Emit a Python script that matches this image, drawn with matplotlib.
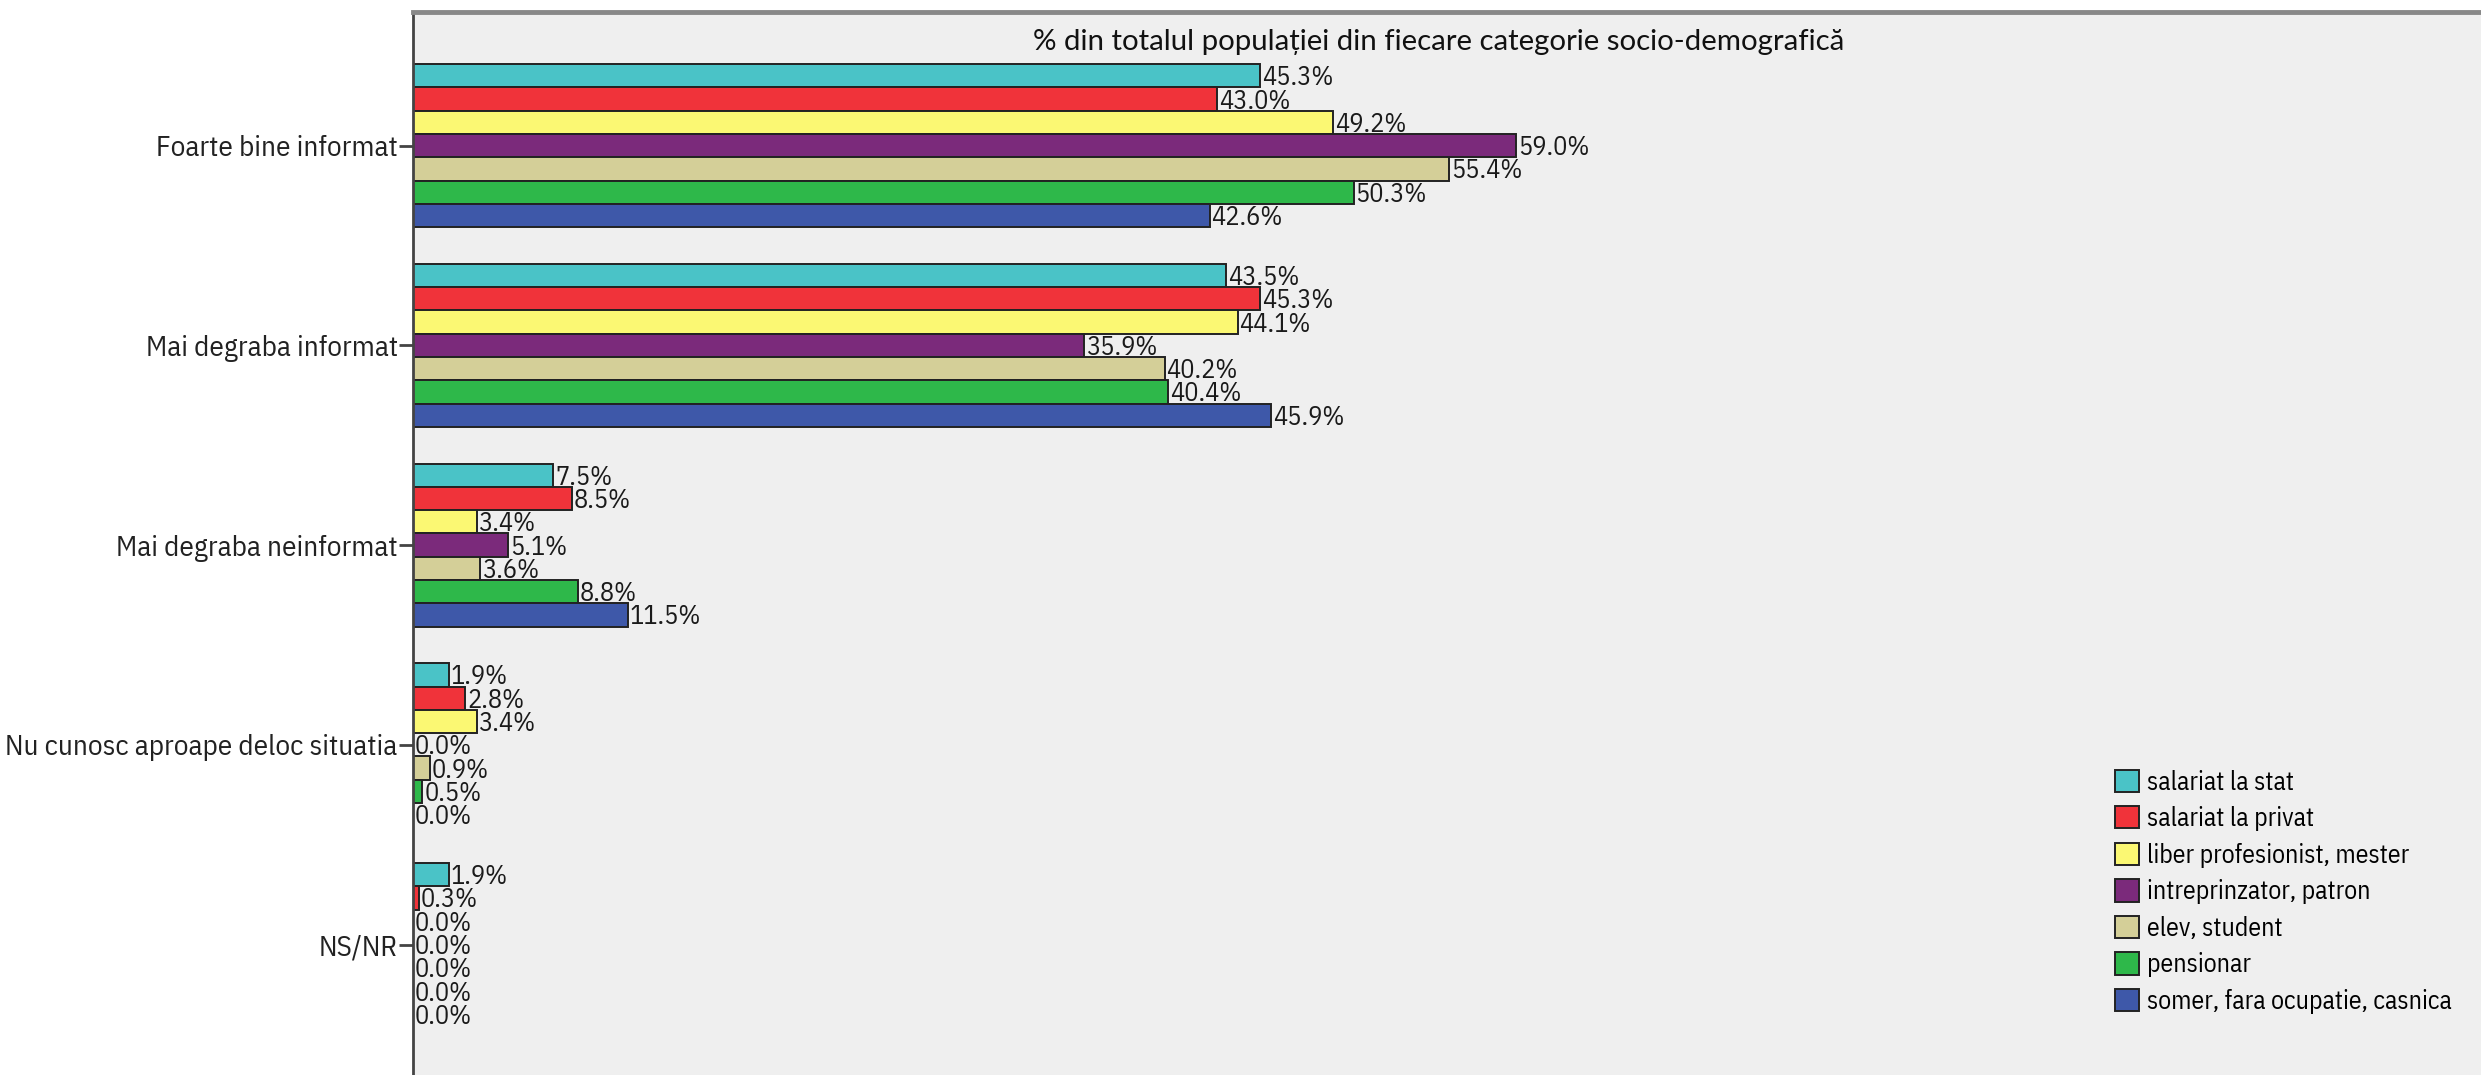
import numpy as np
import matplotlib.pyplot as plt

# categories (top to bottom)
CATEGORIES = [
    "Foarte bine informat",
    "Mai degraba informat",
    "Mai degraba neinformat",
    "Nu cunosc aproape deloc situatia",
    "NS/NR",
]

# series (legend order)
SERIES = [
    "salariat la stat",
    "salariat la privat",
    "liber profesionist, mester",
    "intreprinzator, patron",
    "elev, student",
    "pensionar",
    "somer, fara ocupatie, casnica",
]

salariat_stat = [45.3, 43.5, 7.5, 1.9, 1.9]
salariat_privat = [43.0, 45.3, 8.5, 2.8, 0.3]
liber_profesionist = [49.2, 44.1, 3.4, 3.4, 0.0]
intreprinzator = [59.0, 35.9, 5.1, 0.0, 0.0]
elev_student = [55.4, 40.2, 3.6, 0.9, 0.0]
pensionar = [50.3, 40.4, 8.8, 0.5, 0.0]
somer = [42.6, 45.9, 11.5, 0.0, 0.0]

VALUES = [salariat_stat, salariat_privat, liber_profesionist, intreprinzator,
          elev_student, pensionar, somer]

COLORS = ["#4AC3C7", "#F0333A", "#FBF873", "#7B2A7B", "#D4CF98", "#2EB84A", "#3E58A9"]

SUBTITLE = "% din totalul populației din fiecare categorie socio-demografică"

# layout
FIG_W, FIG_H = 24.81, 10.75
DPI = 100
AX_LEFT_PX = 413
AX_TOP_PX = 12
BAR_H = 0.1166
X_MAX = 110.6
Y_TOP = -0.669
Y_BOTTOM = 4.653

NARROW = ["IBM Plex Sans Condensed", "DejaVu Sans"]
CALIBRI_LIKE = ["Lato", "DejaVu Sans"]

fig = plt.figure(figsize=(FIG_W, FIG_H), dpi=DPI)
ax = fig.add_axes([AX_LEFT_PX / (FIG_W * DPI), 0,
                   1 - AX_LEFT_PX / (FIG_W * DPI), 1 - AX_TOP_PX / (FIG_H * DPI)])
ax.set_facecolor("#EFEFEF")

y = np.arange(len(CATEGORIES))
for j, (vals, name, col) in enumerate(zip(VALUES, SERIES, COLORS)):
    off = (j - 3) * BAR_H
    bars = ax.barh(y + off, vals, height=BAR_H, color=col, edgecolor="#222222",
                   linewidth=1.4, label=name)
    for b, v in zip(bars, vals):
        ax.text(b.get_width() + 0.1, b.get_y() + b.get_height() / 2 + 0.01,
                f"{v:.1f}%", va="center", ha="left", fontsize=19,
                family=NARROW, color="#1a1a1a")

ax.set_xlim(0, X_MAX)
ax.set_ylim(Y_BOTTOM, Y_TOP)
ax.set_yticks(y)
ax.set_yticklabels(CATEGORIES, fontsize=21, family=NARROW, color="#222222")
ax.set_xticks([])
ax.tick_params(axis="y", length=10, width=2, color="#444444", pad=1)

ax.spines["right"].set_visible(False)
ax.spines["bottom"].set_visible(False)
ax.spines["left"].set_color("#444444")
ax.spines["left"].set_linewidth(2)
ax.spines["top"].set_color("#888888")
ax.spines["top"].set_linewidth(3.5)

ax.text(0.496, 0.972, SUBTITLE, transform=ax.transAxes, ha="center", va="center",
        fontsize=21.2, family=CALIBRI_LIKE, color="#111111")

leg = ax.legend(loc="upper left", bbox_to_anchor=(0.818, 0.297), frameon=False,
                prop={"family": NARROW, "size": 18.5}, handlelength=0.95,
                handleheight=0.95, handletextpad=0.3, labelspacing=0.45,
                borderaxespad=0)
for h in leg.legend_handles:
    h.set_edgecolor("#222222")
    h.set_linewidth(1.4)

fig.savefig("out.png", dpi=DPI)
